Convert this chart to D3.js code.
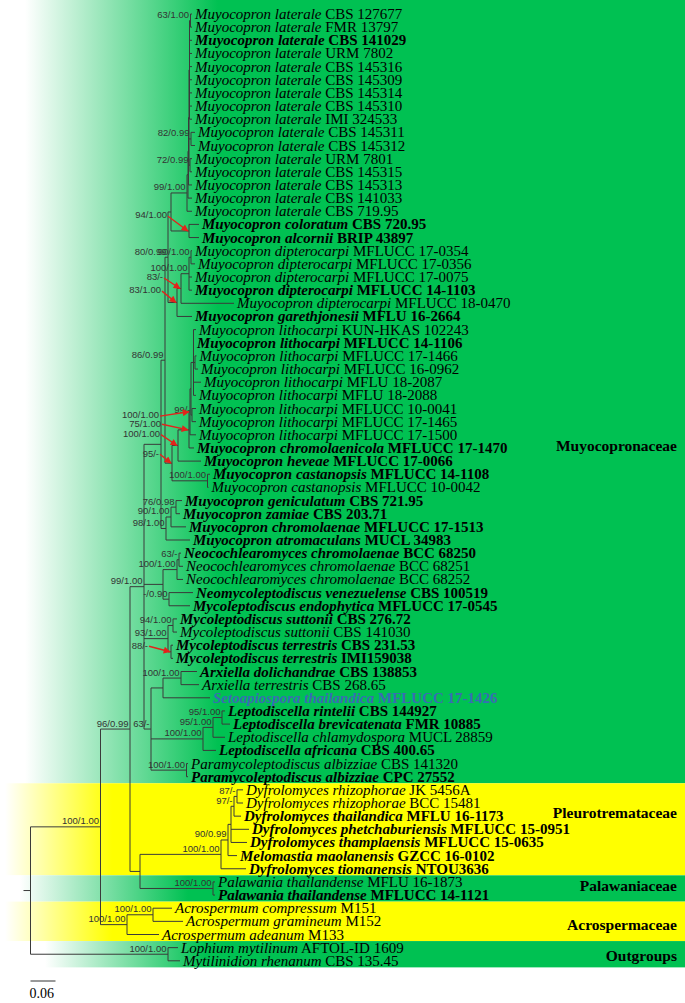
<!DOCTYPE html>
<html>
<head>
<meta charset="utf-8">
<script src="https://cdn.jsdelivr.net/npm/d3@7/dist/d3.min.js"></script>
<style>
html,body{margin:0;padding:0;background:#fff;}
svg{display:block;}
</style>
</head>
<body>
<svg id="chart" width="685" height="1003"></svg>
<script>
// ---------------- DATA ----------------
const taxa = [
 "Muyocopron laterale","Muyocopron laterale","Muyocopron laterale","Muyocopron laterale",
 "Muyocopron laterale","Muyocopron laterale","Muyocopron laterale","Muyocopron laterale",
 "Muyocopron laterale","Muyocopron laterale","Muyocopron laterale","Muyocopron laterale",
 "Muyocopron laterale","Muyocopron laterale","Muyocopron laterale","Muyocopron laterale",
 "Muyocopron coloratum","Muyocopron alcornii",
 "Muyocopron dipterocarpi","Muyocopron dipterocarpi","Muyocopron dipterocarpi","Muyocopron dipterocarpi","Muyocopron dipterocarpi",
 "Muyocopron garethjonesii",
 "Muyocopron lithocarpi","Muyocopron lithocarpi","Muyocopron lithocarpi","Muyocopron lithocarpi","Muyocopron lithocarpi",
 "Muyocopron lithocarpi","Muyocopron lithocarpi","Muyocopron lithocarpi","Muyocopron lithocarpi",
 "Muyocopron chromolaenicola","Muyocopron heveae","Muyocopron castanopsis","Muyocopron castanopsis",
 "Muyocopron geniculatum","Muyocopron zamiae","Muyocopron chromolaenae","Muyocopron atromaculans",
 "Neocochlearomyces chromolaenae","Neocochlearomyces chromolaenae","Neocochlearomyces chromolaenae",
 "Neomycoleptodiscus venezuelense","Mycoleptodiscus endophytica",
 "Mycoleptodiscus suttonii","Mycoleptodiscus suttonii","Mycoleptodiscus terrestris","Mycoleptodiscus terrestris",
 "Arxiella dolichandrae","Arxiella terrestris","Setoapiospora thailandica",
 "Leptodiscella rintelii","Leptodiscella brevicatenata","Leptodiscella chlamydospora","Leptodiscella africana",
 "Paramycoleptodiscus albizziae","Paramycoleptodiscus albizziae",
 "Dyfrolomyces rhizophorae","Dyfrolomyces rhizophorae","Dyfrolomyces thailandica","Dyfrolomyces phetchaburiensis",
 "Dyfrolomyces thamplaensis","Melomastia maolanensis","Dyfrolomyces tiomanensis",
 "Palawania thailandense","Palawania thailandense",
 "Acrospermum compressum","Acrospermum gramineum","Acrospermum adeanum",
 "Lophium mytilinum","Mytilinidion rhenanum"
];
const strains = [
 "CBS 127677","FMR 13797","CBS 141029","URM 7802","CBS 145316","CBS 145309","CBS 145314","CBS 145310",
 "IMI 324533","CBS 145311","CBS 145312","URM 7801","CBS 145315","CBS 145313","CBS 141033","CBS 719.95",
 "CBS 720.95","BRIP 43897",
 "MFLUCC 17-0354","MFLUCC 17-0356","MFLUCC 17-0075","MFLUCC 14-1103","MFLUCC 18-0470",
 "MFLU 16-2664",
 "KUN-HKAS 102243","MFLUCC 14-1106","MFLUCC 17-1466","MFLUCC 16-0962","MFLU 18-2087",
 "MFLU 18-2088","MFLUCC 10-0041","MFLUCC 17-1465","MFLUCC 17-1500",
 "MFLUCC 17-1470","MFLUCC 17-0066","MFLUCC 14-1108","MFLUCC 10-0042",
 "CBS 721.95","CBS 203.71","MFLUCC 17-1513","MUCL 34983",
 "BCC 68250","BCC 68251","BCC 68252",
 "CBS 100519","MFLUCC 17-0545",
 "CBS 276.72","CBS 141030","CBS 231.53","IMI159038",
 "CBS 138853","CBS 268.65","MFLUCC 17-1426",
 "CBS 144927","FMR 10885","MUCL 28859","CBS 400.65",
 "CBS 141320","CPC 27552",
 "JK 5456A","BCC 15481","MFLU 16-1173","MFLUCC 15-0951",
 "MFLUCC 15-0635","GZCC 16-0102","NTOU3636",
 "MFLU 16-1873","MFLUCC 14-1121",
 "M151","M152","M133",
 "AFTOL-ID 1609","CBS 135.45"
];
const boldTaxa = [2,16,17,21,23,25,33,34,35,37,38,39,40,41,44,45,46,48,49,50,52,53,54,56,58,61,62,63,64,65,67];
const blueTaxa = [52];

// tree (Newick, branch lengths in substitutions/site, node labels = ML bootstrap / posterior)
const nwkLaterale = "((((((t0:.0036,t1:.0036)63/1.00:.0024,t2:.006,t3:.006,t4:.006,t5:.006,t6:.006,t7:.006,t8:.006):.0012,(t9:.0096,t10:.0096)82/0.99:.0048,(t11:.0048,t12:.0048)72/0.99:.0024):.0012,t13:.0084):.0012,t14:.0096):.0024,t15:.012)99/1.00";
const nwkDipterocarpi = "((((t18:.0024,t19:.0096)90/1.00:.0048,t20:.0072,t21:.0072)100/1.00:.0192,t22:.1272)83/-:.0096,t23:.036)83/1.00";
const nwkLithocarpi = "(((t24:.006,t25:.0012,(t26:.0036,t27:.0072):.0036,t28:.018,t29:.006):.006,(t30:.0096,t31:.0096)99/-:.0024):.0024,t32:.0144)100/1.00";
const nwkGeniculatum = "(((t37:.0144,t38:.0096)76/0.98:.012,t39:.036)90/1.00:.012,t40:.0576)98/1.00";
const nwkNeoco = "(((t41:.0048,t42:.0096)63/-:.0048,t43:.0144)100/1.00:.0336,(t44:.0576,t45:.0504)-/0.90:.0144)";
const nwkMycolepto = "((t46:.0096,t47:.0096)94/1.00:.012,(t48:.0048,t49:.0048)88/-:.0072)93/1.00";
const nwkArxiella = "((t50:.0384,t51:.0432)100/1.00:.0432,t52:.1128)";
const nwkLeptodiscella = "(((t53:.0072,t54:.0192)95/1.00:.0216,t55:.0288)95/1.00:.024,t56:.0312)100/1.00";
const nwkParamyco = "(t57:.0036,t58:.0036)100/1.00";
const nwkPleuro = "(((((t59:.0144,t60:.0144)87/-:.0072,t61:.0168)97/-:.0072,t62:.0432,t63:.0384):.0072,t64:.0216)90/0.99:.0168,t65:.06)100/1.00";
const nwkPalawania = "(t66:.0048,t67:.0048)100/1.00";
const nwkAcro = "((t68:.0456,t69:.072)100/1.00:.0624,t70:.0768)100/1.00";
const nwkOut = "(t71:.024,t72:.0288)100/1.00";

const nwkE = "((" + nwkLaterale + ":.0384,(t16:.024,t17:.024)94/1.00:.0432):.0072," + nwkDipterocarpi + ":.0216)80/0.99";
const nwkJ = "(((" + nwkLithocarpi + ":.0024,t33:.012)75/1.00:.0264,t34:.0552)100/1.00:.0144,(t35:.006,t36:.0024)100/1.00:.0852)95/-";
const nwkMuyocopron = "((" + nwkE + ":.0072," + nwkJ + ":.0168)86/0.99:.0096," + nwkGeniculatum + ":.012)";
const nwkFamily = "(" + nwkMuyocopron + ":.0408," + nwkNeoco + ":.0456," + nwkMycolepto + ":.0576,(" +
  nwkArxiella + ":.0288," + nwkLeptodiscella + ":.1248," + nwkParamyco + ":.0852)63/-:.0168)99/1.00";
const newick = "(((" + nwkFamily + ":.0336,(" + nwkPleuro + ":.1944," + nwkPalawania + ":.1752):.024)96/0.99:.0708," +
  nwkAcro + ":.0636)100/1.00:.168," + nwkOut + ":.33);";

const families = ["Muyocopronaceae","Pleurotremataceae","Palawaniaceae","Acrospermaceae","Outgroups"];
const familyFirst = [0,59,66,68,71];
const familyLast = [58,65,67,70,72];
const familyHue = ["green","yellow","green","yellow","green"];
const scaleBarValue = 0.06;

// ---------------- LAYOUT / STYLE ----------------
const W = 685, H = 1003;
const ROW0 = 14, ROWSTEP = 13.15;
const COLORS = {green: "#00c152", yellow: "#ffff00"};
const gradRange = [[25,218],[5,112],[20,188],[5,112],[45,205]];
const familyLabelRow = [32.85, 60.76, 66.3, 69.28, 71.6];
// callout labels (offset of label right edge in px, vertical offset in rows), keyed by leaf range of node
const callouts = {
  "16-17": [-22,-1.2], "18-22": [-18,-0.875], "18-23": [-16,-0.94],
  "24-32": [-31,0.25], "24-33": [-28,-0.5], "24-34": [-18,-0.9], "24-36": [-13,-0.75],
  "48-49": [-23,-0.5]
};

function parseNewick(s){
  let i = 0;
  function node(){
    const n = {children: [], name: "", length: 0};
    if (s[i] === "("){
      i++;
      n.children.push(node());
      while (s[i] === ","){ i++; n.children.push(node()); }
      i++;
    }
    let name = "";
    while (i < s.length && !",):;".includes(s[i])) name += s[i++];
    n.name = name.trim();
    if (s[i] === ":"){
      i++;
      let len = "";
      while (i < s.length && !",);".includes(s[i])) len += s[i++];
      n.length = +len;
    }
    return n;
  }
  return node();
}

const svg = d3.select("#chart");
const y = d3.scaleLinear().domain([0, taxa.length - 1]).range([ROW0, ROW0 + ROWSTEP * (taxa.length - 1)]);
const x = d3.scaleLinear().domain([0, scaleBarValue]).range([30.5, 55.5]);

// backgrounds
const defs = svg.append("defs");
families.forEach((f, i) => {
  const g = defs.append("linearGradient").attr("id", "bg" + i)
    .attr("gradientUnits", "userSpaceOnUse")
    .attr("x1", gradRange[i][0]).attr("x2", gradRange[i][1]).attr("y1", 0).attr("y2", 0);
  g.append("stop").attr("offset", 0).attr("stop-color", "#ffffff");
  g.append("stop").attr("offset", 1).attr("stop-color", COLORS[familyHue[i]]);
});
const mk = defs.append("marker").attr("id", "ah").attr("viewBox", "0 0 10 10")
  .attr("refX", 9).attr("refY", 5).attr("markerWidth", 8).attr("markerHeight", 7)
  .attr("markerUnits", "userSpaceOnUse").attr("orient", "auto");
mk.append("path").attr("d", "M0,0L10,5L0,10z").attr("fill", "#e3231b");

const bands = svg.append("g");
families.forEach((f, i) => {
  const top = i === 0 ? 0 : y(familyFirst[i] - 0.5);
  const bot = y(familyLast[i] + 0.5);
  bands.append("rect").attr("x", 0).attr("y", top).attr("width", W).attr("height", bot - top)
    .attr("fill", "url(#bg" + i + ")");
});

// tree
const root = d3.hierarchy(parseNewick(newick), d => d.children.length ? d.children : null);
root.eachBefore(d => { d.dist = d.parent ? d.parent.dist + d.data.length : 0; d.px = x(d.dist); });
root.eachAfter(d => {
  if (!d.children){
    d.idx = +d.data.name.slice(1); d.py = y(d.idx); d.first = d.idx; d.last = d.idx;
  } else {
    const a = d.children[0], b = d.children[d.children.length - 1];
    d.py = (a.py + b.py) / 2; d.first = a.first; d.last = b.last;
  }
});

const lines = svg.append("g").attr("stroke", "#3a3a3a").attr("stroke-width", 1).attr("fill", "none");
root.descendants().forEach(d => {
  if (d.parent) lines.append("line").attr("x1", d.parent.px).attr("x2", d.px).attr("y1", d.py).attr("y2", d.py);
  if (d.children) {
    lines.append("line").attr("x1", d.px).attr("x2", d.px)
      .attr("y1", d.children[0].py).attr("y2", d.children[d.children.length - 1].py);
  }
});
lines.append("line").attr("x1", root.px - 7).attr("x2", root.px).attr("y1", root.py).attr("y2", root.py);

// support values
const sup = svg.append("g").attr("font-family", "'Liberation Sans', Arial, sans-serif")
  .attr("font-size", 9.5).attr("fill", "#333");
const arrows = svg.append("g");
root.descendants().forEach(d => {
  if (!d.children || !d.data.name) return;
  const co = callouts[d.first + "-" + d.last];
  if (co){
    const lx = d.px + co[0], ly = d.py + co[1] * ROWSTEP;
    sup.append("text").attr("x", lx).attr("y", ly + 3.3).attr("text-anchor", "end").text(d.data.name);
    arrows.append("line").attr("x1", lx + 1).attr("y1", ly + 1).attr("x2", d.px - 1).attr("y2", d.py)
      .attr("stroke", "#e3231b").attr("stroke-width", 1.4).attr("marker-end", "url(#ah)");
  } else {
    sup.append("text").attr("x", d.px - 1.5).attr("y", d.py - 2.5).attr("text-anchor", "end").text(d.data.name);
  }
});

// leaf labels
const boldSet = new Set(boldTaxa), blueSet = new Set(blueTaxa);
const lab = svg.append("g").attr("font-family", "'Liberation Serif', 'Times New Roman', serif").attr("font-size", 15);
root.leaves().forEach(d => {
  const i = d.idx;
  const t = lab.append("text").attr("x", d.px + 3).attr("y", d.py + 5)
    .attr("font-weight", boldSet.has(i) ? "bold" : "normal")
    .attr("fill", blueSet.has(i) ? "#3a6cb4" : "#000")
    .style("white-space", "pre");
  t.append("tspan").attr("font-style", "italic").text(taxa[i]);
  t.append("tspan").text(" " + strains[i]);
});

// family labels
const fam = svg.append("g").attr("font-family", "'Liberation Serif', 'Times New Roman', serif")
  .attr("font-size", 15.5).attr("font-weight", "bold").attr("text-anchor", "end");
families.forEach((f, i) => {
  fam.append("text").attr("x", 677).attr("y", y(familyLabelRow[i]) + 5).text(f);
});

// scale bar
svg.append("line").attr("x1", x(0)).attr("x2", x(scaleBarValue)).attr("y1", 981).attr("y2", 981)
  .attr("stroke", "#333").attr("stroke-width", 1);
svg.append("text").attr("x", x(0) - 1).attr("y", 998)
  .attr("font-family", "'Liberation Serif', 'Times New Roman', serif").attr("font-size", 14)
  .text(String(scaleBarValue));
</script>
</body>
</html>
